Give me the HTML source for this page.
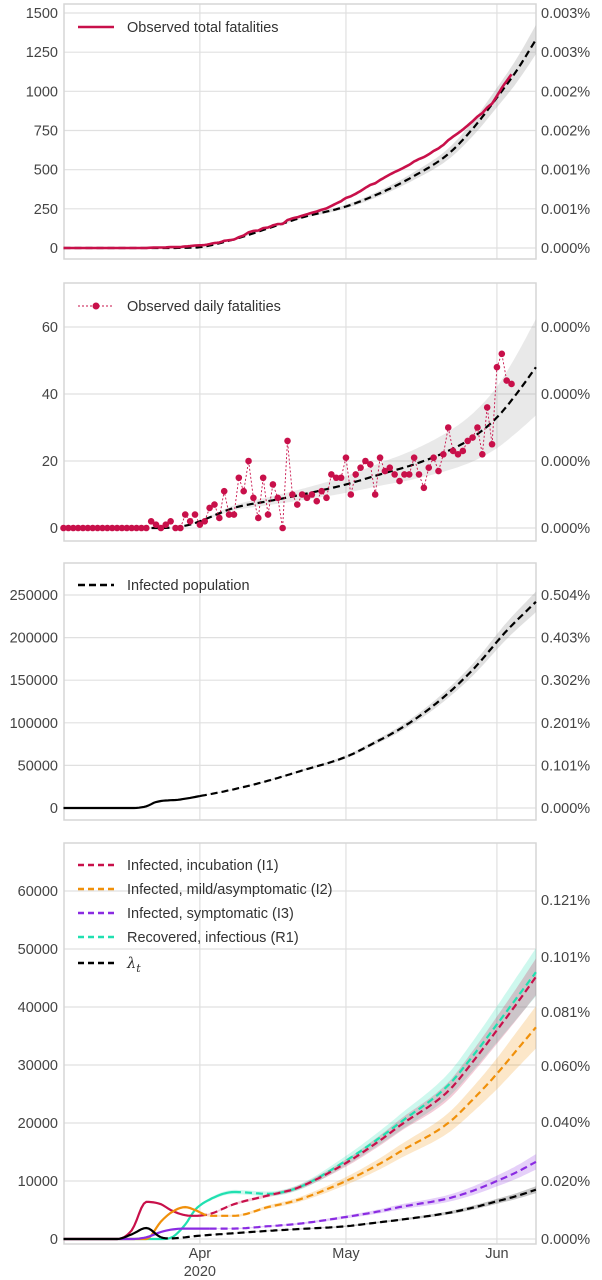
<!DOCTYPE html>
<html><head><meta charset="utf-8">
<style>
html,body{margin:0;padding:0;background:#fff;}
svg{display:block;font-family:"Liberation Sans",sans-serif;}
.tk{font-size:14.5px;fill:#444;}
.lg{font-size:14.5px;fill:#333;}
</style></head>
<body>
<svg id="c" width="602" height="1280" viewBox="0 0 602 1280"></svg>
<script>
// ---- data (day index 0 = Mar 4, 2020) ----
const dailyDeaths = [0,0,0,0,0,0,0,0,0,0,0,0,0,0,0,0,0,0,
 2,1,0,1,2,0,0,4,2,4,1,2,6,7,3,11,4,4,15,11,20,9,3,15,4,13,9,0,26,10,7,10,9,10,8,11,9,16,15,
 15,21,10,16,18,20,19,10,21,17,18,16,14,16,16,21,16,12,18,21,17,22,30,23,22,23,26,27,30,22,36,25,48,52,44,43];
const modelDays = [0,20,26,28,35,42,49,58,65,72,79,84,89,93,97];
const modelTotal = [0,0,2,5,55,125,195,265,350,460,600,760,960,1130,1330];
const modelDaily = [0,0,1,2,6,8,10,13,16,19,23,27,33,40,48];
const infDays = [0,14,17,19,24,28,35,42,49,58,63,70,77,84,91,97];
const infected = [0,0,2000,7000,10000,14000,22000,32000,44000,60000,74000,96000,125000,162000,208000,242000];
const compDays = [0,11,14,17,20,22,25,27,30,35,42,48,58,65,69,79,84,89,93,97];
const i1 = [0,0,1500,6400,6000,5000,4100,4000,4300,6000,7500,8800,13100,17000,19500,25500,30500,36000,40500,45200];
const i2 = [0,0,0,0,3000,4500,5500,5000,4000,4000,5500,6700,10000,13000,15000,20000,24000,28500,32500,36500];
const i3 = [0,0,0,300,1200,1600,1800,1800,1800,1800,2200,2600,3800,4800,5500,7000,8300,10000,11500,13300];
const r1 = [0,0,0,0,0,200,2500,5000,6800,8100,7800,8800,13500,17500,20000,26500,31500,37000,41500,46000];
const lam = [0,0,800,1900,300,100,300,500,700,1000,1400,1700,2200,2900,3300,4500,5400,6500,7400,8500];
const lamSolidEnd = 20;
const p1Ticks = [0,250,500,750,1000,1250,1500];
const p1Right = ["0.000%","0.001%","0.001%","0.002%","0.002%","0.003%","0.003%"];
const p2Ticks = [0,20,40,60];
const p2Right = ["0.000%","0.000%","0.000%","0.000%"];
const p3Ticks = [0,50000,100000,150000,200000,250000];
const p3Right = ["0.000%","0.101%","0.201%","0.302%","0.403%","0.504%"];
const p4Ticks = [0,10000,20000,30000,40000,50000,60000];
const p4Right = ["0.000%","0.020%","0.040%","0.060%","0.081%","0.101%","0.121%"];
const monthDays = [28,58,89];
const monthLabels = ["Apr","May","Jun"];

const NS="http://www.w3.org/2000/svg";
const svg=document.getElementById('c');
function el(tag,attrs,parent){const e=document.createElementNS(NS,tag);for(const k in attrs)e.setAttribute(k,attrs[k]);(parent||svg).appendChild(e);return e;}
const X0=64,X1=536;
const xs=d=>63.5+d*4.87;
// monotone cubic interpolation
function slopes(days,vals){const n=days.length,dl=[],m=new Array(n).fill(0);
  for(let i=0;i<n-1;i++)dl.push((vals[i+1]-vals[i])/(days[i+1]-days[i]));
  m[0]=dl[0];m[n-1]=dl[n-2];
  for(let i=1;i<n-1;i++){m[i]=(dl[i-1]*dl[i]<=0)?0:(dl[i-1]+dl[i])/2;}
  for(let i=0;i<n-1;i++){if(dl[i]===0){m[i]=0;m[i+1]=0;continue;}const a=m[i]/dl[i],b=m[i+1]/dl[i],h=a*a+b*b;if(h>9){const t=3/Math.sqrt(h);m[i]=t*a*dl[i];m[i+1]=t*b*dl[i];}}
  return m;}
function interp(days,vals,d){const m=slopes(days,vals);
  for(let i=1;i<days.length;i++){if(d<=days[i]){const h=days[i]-days[i-1],t=(d-days[i-1])/h;
    const h00=2*t*t*t-3*t*t+1,h10=t*t*t-2*t*t+t,h01=-2*t*t*t+3*t*t,h11=t*t*t-t*t;
    return h00*vals[i-1]+h10*h*m[i-1]+h01*vals[i]+h11*h*m[i];}}
  return vals[vals.length-1];}
function linInterp(days,vals,d){for(let i=1;i<days.length;i++){if(d<=days[i]){const t=(d-days[i-1])/(days[i]-days[i-1]);return vals[i-1]+t*(vals[i]-vals[i-1]);}}return vals[vals.length-1];}
function pathFrom(days,vals,ys,d0,d1,lin){let s="";for(let d=d0;d<=d1+1e-9;d+=0.5){const v=lin?linInterp(days,vals,d):interp(days,vals,d);s+=(s?"L":"M")+xs(d).toFixed(1)+","+ys(v).toFixed(1);}return s;}
function bandFrom(days,vals,ys,d0,d1,k){let up=[],lo=[];for(let d=d0;d<=d1+1e-9;d+=0.5){const v=interp(days,vals,d);const w=k*v*(0.3+0.7*(d-d0)/(d1-d0));up.push(xs(d).toFixed(1)+","+ys(v+w).toFixed(1));lo.unshift(xs(d).toFixed(1)+","+ys(Math.max(0,v-w)).toFixed(1));}return "M"+up.join("L")+"L"+lo.join("L")+"Z";}

function panel(name,top,bottom,ys,ticks,right,rightYs){
  const g=el('g',{},svg);
  
  
  ticks.forEach((t,i)=>{const y=ys(t);
    const gl=el('line',{x1:X0,x2:X1,y1:y,y2:y,stroke:'#e0e0e0','stroke-width':1.2},g);
    
    const tx=el('text',{x:58,y:y+5,'text-anchor':'end',class:'tk'},g);tx.textContent=String(t);
    
  });
  right.forEach((r,i)=>{const y=rightYs?rightYs[i]:ys(ticks[i]);
    const tx=el('text',{x:541,y:y+5,class:'tk'},g);tx.textContent=r;
    
  });
  monthDays.forEach(d=>{const gl=el('line',{x1:xs(d),x2:xs(d),y1:top,y2:bottom,stroke:'#e0e0e0','stroke-width':1.2},g);
    });
  const fr=el('rect',{x:X0,y:top,width:X1-X0,height:bottom-top,fill:'none',stroke:'#d6d6d6','stroke-width':1.5},g);
  
  return g;
}
function line(g,name,d,color,w,dash){const p=el('path',{d:d,fill:'none',stroke:color,'stroke-width':w},g);if(dash)p.setAttribute('stroke-dasharray',dash);
  return p;}
function band(g,name,d,color,op){const p=el('path',{d:d,fill:color,'fill-opacity':op,stroke:'none'},g);
  return p;}
function legend(g,name,y,label,color,dash,dot){const lg=el('g',{},g);
  
  el('line',{x1:78,x2:114,y1:y,y2:y,stroke:color,'stroke-width':dot?1:2.5,'stroke-dasharray':dash||'none'},lg);
  if(dot)el('circle',{cx:96,cy:y,r:3.5,fill:color},lg);
  const t=el('text',{x:127,y:y+5,class:'lg'},lg);t.textContent=label;return lg;}

const lastDay=dailyDeaths.length-1;
const cum=[];let s=0;dailyDeaths.forEach(v=>{s+=v;cum.push(s);});
const dIdx=dailyDeaths.map((v,i)=>i);

// Panel 1
const y1=v=>248-v*235/1500;
const g1=panel('panel-total-fatalities',4,259,y1,p1Ticks,p1Right);
band(g1,'total-model-band',bandFrom(modelDays,modelTotal,y1,20,97,0.07),'#999',0.3);
line(g1,'total-model-line',pathFrom(modelDays,modelTotal,y1,0,97),'#000',2.2,'7,4');
line(g1,'observed-total-line',pathFrom(dIdx,cum,y1,0,lastDay,true),'#c8104a',2.6);
legend(g1,'legend-observed-total',27,'Observed total fatalities','#c8104a');

// Panel 2
const y2=v=>528-v*3.35;
const g2=panel('panel-daily-fatalities',283,541,y2,p2Ticks,p2Right);
band(g2,'daily-model-band',bandFrom(modelDays,modelDaily,y2,20,97,0.3),'#999',0.22);
line(g2,'daily-model-line',pathFrom(modelDays,modelDaily,y2,0,97),'#000',2.2,'7,4');
let dp="";dailyDeaths.forEach((v,i)=>{dp+=(i?"L":"M")+xs(i).toFixed(1)+","+y2(v).toFixed(1);});
line(g2,'observed-daily-line',dp,'#c8104a',0.9,'2,2');
dailyDeaths.forEach((v,i)=>{const c=el('circle',{cx:xs(i),cy:y2(v),r:3.3,fill:'#c8104a'},g2);
  
  });
legend(g2,'legend-observed-daily',306,'Observed daily fatalities','#c8104a','2,2',true);

// Panel 3
const y3=v=>808-v*213/250000;
const g3=panel('panel-infected',563,820,y3,p3Ticks,p3Right);
band(g3,'infected-band',bandFrom(infDays,infected,y3,28,97,0.05),'#999',0.3);
line(g3,'infected-solid-line',pathFrom(infDays,infected,y3,0,28),'#000',2.2);
line(g3,'infected-line',pathFrom(infDays,infected,y3,28,97),'#000',2.2,'7,4');
legend(g3,'legend-infected',585,'Infected population','#000','7,4');

// Panel 4
const y4=v=>1239-v*58/10000;
const g4=panel('panel-compartments',843,1244,y4,p4Ticks,p4Right,[1239,1181,1122,1066,1012,957,900]);
const comps=[['r1',r1,'#20e0b0',0.09],['i1',i1,'#c8104a',0.07],['i2',i2,'#f0900a',0.1],['i3',i3,'#8a2be2',0.1],['lambda',lam,'#000',0.07]];
comps.forEach(c=>band(g4,c[0]+'-band',bandFrom(compDays,c[1],y4,11,97,c[3]),c[2],0.22));
const sol=[[r1,'#20e0b0',35],[i1,'#c8104a',28],[i2,'#f0900a',28],[i3,'#8a2be2',30],[lam,'#000',lamSolidEnd]];
sol.forEach((c,k)=>{line(g4,comps[k][0]+'-solid',pathFrom(compDays,c[0],y4,0,c[2]),c[1],2.2);
  line(g4,comps[k][0]+'-line',pathFrom(compDays,c[0],y4,c[2],97),c[1],2.2,'7,4');});
legend(g4,'legend-i1',865,'Infected, incubation (I1)','#c8104a','6,4');
legend(g4,'legend-i2',889,'Infected, mild/asymptomatic (I2)','#f0900a','6,4');
legend(g4,'legend-i3',913,'Infected, symptomatic (I3)','#8a2be2','6,4');
legend(g4,'legend-r1',937,'Recovered, infectious (R1)','#20e0b0','6,4');
const lgl=legend(g4,'legend-lambda',963,'','#000','6,4');
const lt=lgl.querySelector('text');lt.setAttribute('font-style','italic');lt.setAttribute('font-family','"DejaVu Serif",serif');
lt.textContent='λ';const sub=el('tspan',{'font-size':'11px',dy:4},lt);sub.textContent='t';

monthLabels.forEach((m,i)=>{const t=el('text',{x:xs(monthDays[i]),y:1258,'text-anchor':'middle',class:'tk'},svg);t.textContent=m;
  });
const yr=el('text',{x:xs(28),y:1276,'text-anchor':'middle',class:'tk'},svg);yr.textContent='2020';

</script>
</body></html>
